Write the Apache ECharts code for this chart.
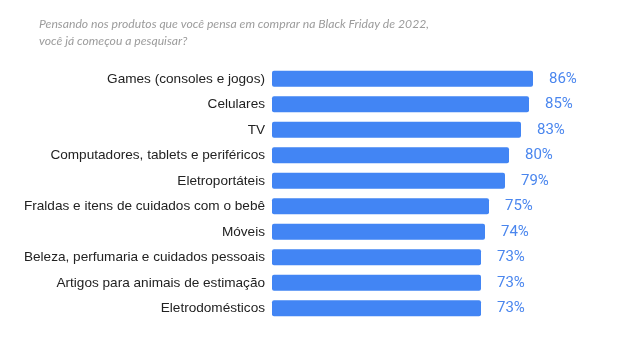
<!DOCTYPE html>
<html><head><meta charset="utf-8">
<script src="https://cdn.jsdelivr.net/npm/echarts@6/dist/echarts.min.js"></script>
<style>html,body{margin:0;padding:0;background:#fff}#c{width:623px;height:352px}</style>
</head><body><div id="c"></div>
<script>
const titleText = "Pensando nos produtos que você pensa em comprar na Black Friday de 2022,\nvocê já começou a pesquisar?";
const categories = ["Games (consoles e jogos)","Celulares","TV","Computadores, tablets e periféricos","Eletroportáteis","Fraldas e itens de cuidados com o bebê","Móveis","Beleza, perfumaria e cuidados pessoais","Artigos para animais de estimação","Eletrodomésticos"];
const values = [86,85,83,80,79,75,74,73,73,73];

const chart = echarts.init(document.getElementById('c'));
chart.setOption({
  animation:false,
  title:{text:titleText,left:34,top:11,textStyle:{fontFamily:'Lato',fontStyle:'italic',fontWeight:'normal',fontSize:12.2,color:'#9c9c9c',lineHeight:17}},
  grid:{left:272,top:66,width:316,height:255,containLabel:false},
  xAxis:{type:'value',min:20.75,max:99.75,show:false},
  yAxis:{type:'category',inverse:true,data:categories,axisLine:{show:false},axisTick:{show:false},
    axisLabel:{margin:7,fontFamily:'Arial, Liberation Sans',fontSize:13.6,color:'#222'}},
  series:[{type:'bar',data:values,barWidth:16,itemStyle:{color:'#4285F4',borderRadius:2},
    label:{show:true,position:'right',distance:16,formatter:'{c}%',fontFamily:'Roboto',fontSize:15,color:'#4a86ee'}}]
});
</script></body></html>
